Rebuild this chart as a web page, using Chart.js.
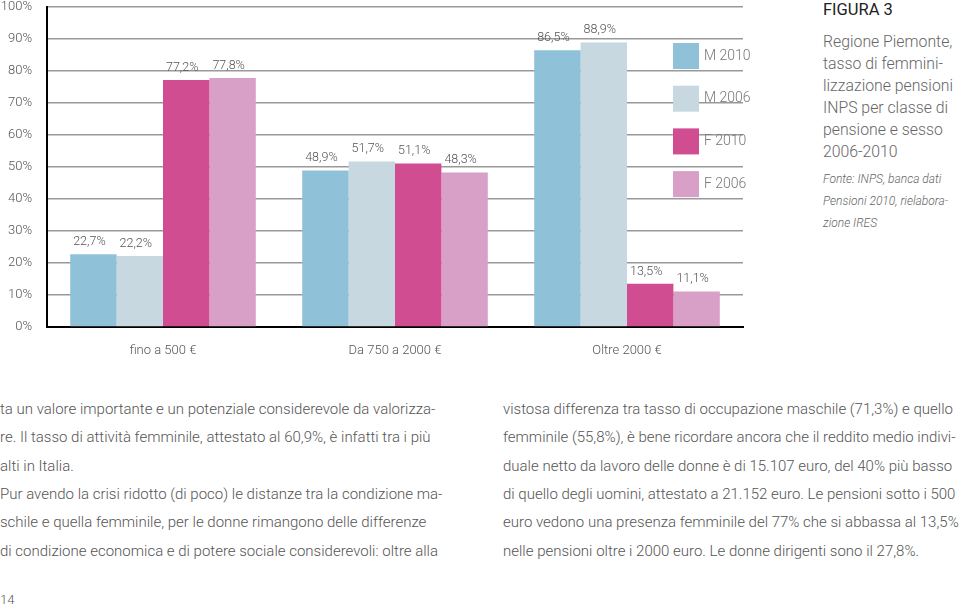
<!DOCTYPE html>
<html>
<head>
<meta charset="utf-8">
<script src="https://cdn.jsdelivr.net/npm/chart.js@4.4.0/dist/chart.umd.min.js"></script>
<style>
  body { margin: 0; background: #fff; width: 959px; height: 608px; position: relative; overflow: hidden;
         font-family: Roboto, "Open Sans", sans-serif; font-weight: 300; color: #555; }
  #wrap { position: absolute; left: 0; top: 0; width: 760px; height: 365px; }
  .t { position: absolute; white-space: nowrap; }
  .fig { left: 823px; top: 0px; font-size: 16.5px; font-weight: 400; color: #222; }
  .tit { left: 823px; font-size: 15.8px; color: #666; }
  .src { left: 823px; font-size: 12px; font-style: italic; color: #666; }
  .body { font-size: 15px; color: #555; }
</style>
</head>
<body>
<div id="wrap"><canvas id="grafico"></canvas></div>

<div class="t fig">FIGURA 3</div>
<div class="t tit" style="top:32px">Regione Piemonte,</div>
<div class="t tit" style="top:54px">tasso di femmini-</div>
<div class="t tit" style="top:76px">lizzazione pensioni</div>
<div class="t tit" style="top:98px">INPS per classe di</div>
<div class="t tit" style="top:120px">pensione e sesso</div>
<div class="t tit" style="top:142px">2006-2010</div>
<div class="t src" style="top:172px">Fonte: INPS, banca dati</div>
<div class="t src" style="top:194px">Pensioni 2010, rielabora-</div>
<div class="t src" style="top:216px">zione IRES</div>

<div id="testo"></div>
<div class="t body" style="left:0;top:592px;font-size:13px">14</div>

<script>
// categorie e valori
const categorie = ['fino a 500 €', 'Da 750 a 2000 €', 'Oltre 2000 €'];
const m2010 = [22.7, 48.9, 86.5];
const m2006 = [22.2, 51.7, 88.9];
const f2010 = [77.2, 51.1, 13.5];
const f2006 = [77.8, 48.3, 11.1];
const tickY = [0, 10, 20, 30, 40, 50, 60, 70, 80, 90, 100];

const colonnaSx = [
  'ta un valore importante e un potenziale considerevole da valorizza-',
  're. Il tasso di attività femminile, attestato al 60,9%, è infatti tra i più',
  'alti in Italia.',
  'Pur avendo la crisi ridotto (di poco) le distanze tra la condizione ma-',
  'schile e quella femminile, per le donne rimangono delle differenze',
  'di condizione economica e di potere sociale considerevoli: oltre alla'
];
const colonnaDx = [
  'vistosa differenza tra tasso di occupazione maschile (71,3%) e quello',
  'femminile (55,8%), è bene ricordare ancora che il reddito medio indivi-',
  'duale netto da lavoro delle donne è di 15.107 euro, del 40% più basso',
  'di quello degli uomini, attestato a 21.152 euro. Le pensioni sotto i 500',
  'euro vedono una presenza femminile del 77% che si abbassa al 13,5%',
  'nelle pensioni oltre i 2000 euro. Le donne dirigenti sono il 27,8%.'
];

// testo della pagina sotto il grafico
const testo = document.getElementById('testo');
const metti = (righe, x) => {
  righe.forEach((r, i) => {
    const d = document.createElement('div');
    d.className = 't body';
    d.style.left = x + 'px';
    d.style.top = (400 + i * 28.3) + 'px';
    d.textContent = r;
    testo.appendChild(d);
  });
};
metti(colonnaSx, 0);
metti(colonnaDx, 503);

const fmt = v => v.toFixed(1).replace('.', ',') + '%';

// etichette sopra le barre
const etichette = {
  id: 'etichette',
  afterDatasetsDraw(chart) {
    const ctx = chart.ctx;
    ctx.save();
    ctx.font = '300 12.5px Roboto';
    ctx.fillStyle = '#555';
    ctx.textAlign = 'center';
    ctx.textBaseline = 'bottom';
    chart.data.datasets.forEach((ds, i) => {
      chart.getDatasetMeta(i).data.forEach((bar, j) => {
        ctx.fillText(fmt(ds.data[j]), bar.x - 4, bar.y - 6);
      });
    });
    ctx.restore();
  }
};

// legenda dentro l'area del grafico
const legenda = {
  id: 'legenda',
  afterDraw(chart) {
    const ctx = chart.ctx;
    const x = chart.chartArea.right - 70;
    ctx.save();
    ctx.font = '300 14px Roboto';
    ctx.textBaseline = 'middle';
    chart.data.datasets.forEach((ds, i) => {
      const y = 43 + i * 42.7;
      ctx.fillStyle = ds.backgroundColor;
      ctx.fillRect(x, y, 26, 26);
      ctx.fillStyle = '#777';
      ctx.fillText(ds.label, x + 31, y + 13);
    });
    ctx.restore();
  }
};

new Chart(document.getElementById('grafico'), {
  type: 'bar',
  data: {
    labels: categorie,
    datasets: [
      { label: 'M 2010', data: m2010, backgroundColor: '#8fc2d9' },
      { label: 'M 2006', data: m2006, backgroundColor: '#c8d8e1' },
      { label: 'F 2010', data: f2010, backgroundColor: '#d04d91' },
      { label: 'F 2006', data: f2006, backgroundColor: '#d8a0c6' }
    ]
  },
  options: {
    responsive: true,
    maintainAspectRatio: false,
    animation: false,
    layout: { padding: { top: 7, right: 17, left: 0, bottom: 0 } },
    datasets: { bar: { categoryPercentage: 0.8, barPercentage: 1.0 } },
    plugins: { legend: { display: false }, tooltip: { enabled: false } },
    scales: {
      x: {
        grid: { display: false },
        border: { display: true, color: '#000', width: 2 },
        ticks: { color: '#555', font: { family: 'Roboto', size: 13, weight: 300 }, padding: 8 },
        afterFit: s => { s.height = 38; s.paddingLeft = 0; s.paddingRight = 0; }
      },
      y: {
        min: 0, max: 100,
        afterBuildTicks: s => { s.ticks = tickY.map(v => ({ value: v })); },
        grid: { color: '#999', lineWidth: 1.6, drawTicks: false },
        border: { display: true, color: '#000', width: 2 },
        ticks: { color: '#555', font: { family: 'Roboto', size: 13, weight: 300 }, padding: 15,
                 callback: v => v + '%' },
        afterFit: s => { s.width = 47; s.paddingTop = 0; s.paddingBottom = 0; }
      }
    }
  },
  plugins: [etichette, legenda]
});
</script>
</body>
</html>
